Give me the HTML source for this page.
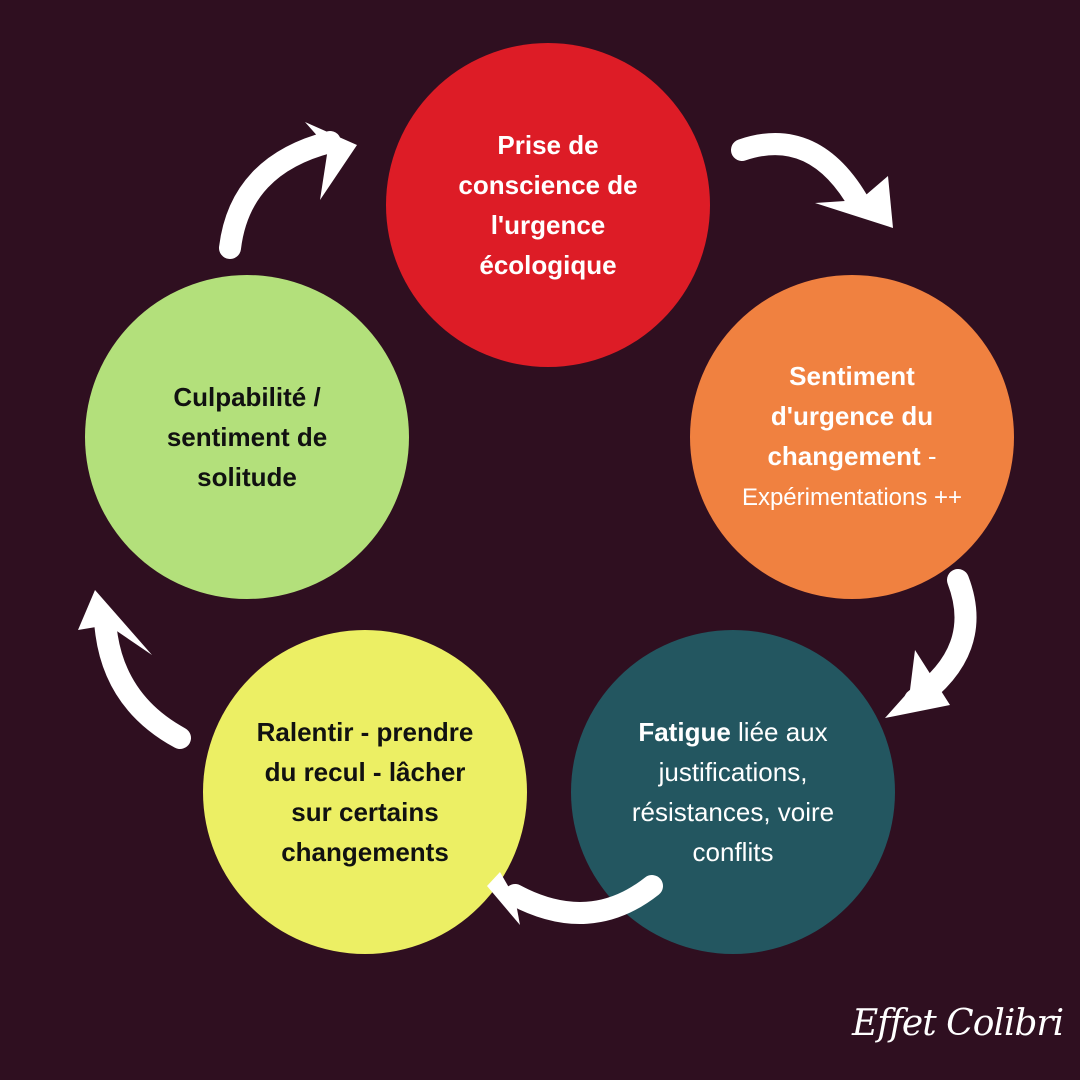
<!DOCTYPE html>
<html><head><meta charset="utf-8"><style>
html,body{margin:0;padding:0}
body{width:1080px;height:1080px;background:#2f0f20;position:relative;overflow:hidden;font-family:"Liberation Sans",sans-serif}
.c{position:absolute;width:324px;height:324px;border-radius:50%;display:flex;align-items:center;justify-content:center;text-align:center;font-size:26px;line-height:40px;font-weight:bold}
.n{font-weight:normal}
</style></head><body>
<div class="c" style="left:386px;top:43px;background:#dd1c26;color:#fff"><div>Prise de<br>conscience de<br>l'urgence<br>écologique</div></div>
<div class="c" style="left:690px;top:275px;background:#f08140;color:#fff"><div>Sentiment<br>d'urgence du<br>changement <span class="n">-</span><br><span class="n" style="font-size:24px">Expérimentations ++</span></div></div>
<div class="c" style="left:571px;top:630px;background:#235660;color:#fff"><div>Fatigue <span class="n">liée aux<br>justifications,<br>résistances, voire<br>conflits</span></div></div>
<div class="c" style="left:203px;top:630px;background:#ecef64;color:#111"><div>Ralentir - prendre<br>du recul - lâcher<br>sur certains<br>changements</div></div>
<div class="c" style="left:85px;top:275px;background:#b3e07b;color:#111"><div>Culpabilité /<br>sentiment de<br>solitude</div></div>
<svg width="1080" height="1080" style="position:absolute;left:0;top:0">
<g fill="none" stroke="#fff" stroke-linecap="round" stroke-width="22">
<path d="M742,150 Q815,125 860,205"/>
<path d="M958,580 Q985,650 915,700"/>
<path d="M652,886 Q590,935 515,895"/>
<path d="M180,738 Q110,700 105,620"/>
<path d="M230,248 Q240,165 330,142"/>
</g>
<g fill="#fff">
<polygon points="888,176 893,228 815,203 860,200"/>
<polygon points="915,650 950,705 885,718 910,690"/>
<polygon points="500,872 487,886 520,925 515,898"/>
<polygon points="78,630 95,590 152,655 108,625"/>
<polygon points="305,122 357,145 320,200 328,148"/>
</g>
</svg>
<div style="position:absolute;left:852px;top:1003px;color:#fff;font-family:'DejaVu Serif',serif;font-style:italic;font-size:36px;white-space:nowrap;letter-spacing:-1px">Effet Colibri</div>
</body></html>
